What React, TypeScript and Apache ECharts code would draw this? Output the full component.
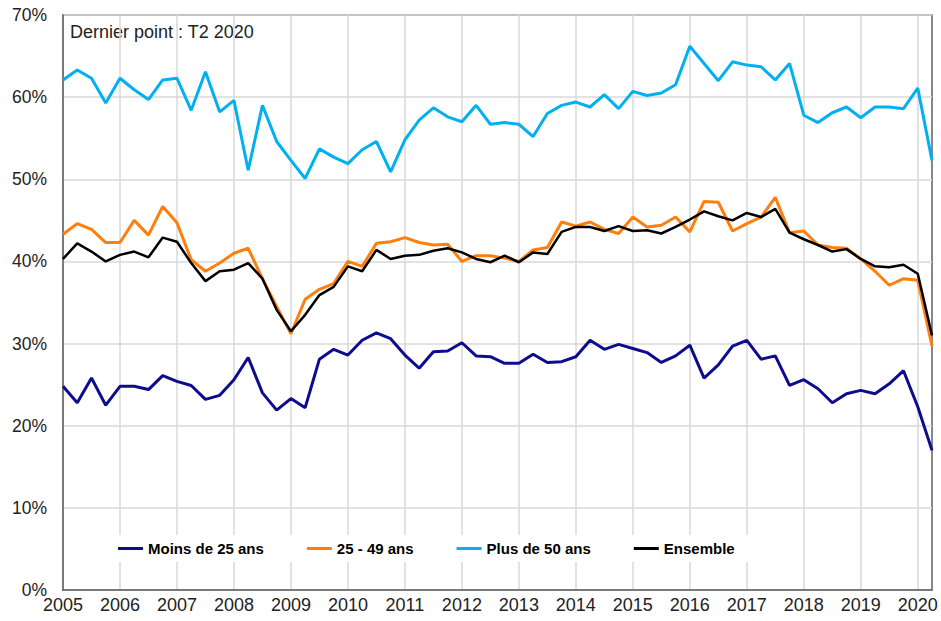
import React, { useEffect, useRef } from "react";
import * as echarts from "echarts";

const years = [2005, 2006, 2007, 2008, 2009, 2010, 2011, 2012, 2013, 2014, 2015, 2016, 2017, 2018, 2019, 2020];
const quarterNames = ["T1", "T2", "T3", "T4"];
const lastYearQuarters = 2;

const seriesNames = ["Moins de 25 ans", "25 - 49 ans", "Plus de 50 ans", "Ensemble"];

const moins25 = [
  24.8, 22.8, 25.8, 22.5, 24.8, 24.8, 24.4, 26.1, 25.4, 24.9, 23.2, 23.7, 25.6, 28.3, 24.0, 21.9,
  23.3, 22.2, 28.1, 29.3, 28.6, 30.4, 31.3, 30.6, 28.6, 27.0, 29.0, 29.1, 30.1, 28.5, 28.4, 27.6,
  27.6, 28.7, 27.7, 27.8, 28.4, 30.4, 29.3, 29.9, 29.4, 28.9, 27.7, 28.5, 29.8, 25.8, 27.4, 29.7,
  30.4, 28.1, 28.5, 24.9, 25.6, 24.5, 22.8, 23.9, 24.3, 23.9, 25.1, 26.7, 22.3, 17.0,
];

const de25a49 = [
  43.3, 44.6, 43.9, 42.3, 42.3, 45.0, 43.2, 46.7, 44.7, 40.2, 38.8, 39.8, 41.0, 41.6, 37.9, 34.5,
  31.2, 35.4, 36.6, 37.3, 40.0, 39.4, 42.2, 42.4, 42.9, 42.3, 42.0, 42.1, 40.0, 40.7, 40.7, 40.4,
  40.0, 41.4, 41.7, 44.8, 44.3, 44.8, 43.9, 43.4, 45.4, 44.2, 44.4, 45.4, 43.6, 47.3, 47.2, 43.7,
  44.6, 45.4, 47.8, 43.5, 43.7, 42.0, 41.7, 41.6, 40.3, 38.8, 37.1, 37.9, 37.7, 29.7,
];

const plus50 = [
  62.1, 63.3, 62.3, 59.3, 62.3, 60.9, 59.7, 62.1, 62.3, 58.4, 63.1, 58.2, 59.6, 51.1, 59.0, 54.6,
  52.3, 50.1, 53.7, 52.7, 51.9, 53.6, 54.6, 50.9, 54.8, 57.2, 58.7, 57.6, 57.0, 59.0, 56.7, 56.9,
  56.7, 55.2, 58.0, 59.0, 59.4, 58.8, 60.3, 58.6, 60.7, 60.2, 60.5, 61.5, 66.2, 64.1, 62.0, 64.3,
  63.9, 63.7, 62.1, 64.1, 57.8, 56.9, 58.1, 58.8, 57.5, 58.8, 58.8, 58.6, 61.1, 52.3,
];

const ensemble = [
  40.3, 42.2, 41.2, 40.0, 40.8, 41.2, 40.5, 42.9, 42.4, 39.8, 37.6, 38.8, 39.0, 39.8, 37.9, 34.1,
  31.5, 33.5, 35.9, 36.9, 39.4, 38.8, 41.4, 40.3, 40.7, 40.8, 41.3, 41.6, 41.1, 40.3, 39.9, 40.7,
  39.9, 41.1, 40.9, 43.6, 44.2, 44.2, 43.7, 44.3, 43.7, 43.8, 43.4, 44.2, 45.1, 46.1, 45.5, 45.0,
  45.9, 45.4, 46.4, 43.5, 42.7, 42.0, 41.2, 41.5, 40.3, 39.4, 39.3, 39.6, 38.5, 31.0,
];

const categories: string[] = [];
years.forEach((y, yi) => {
  const n = yi === years.length - 1 ? lastYearQuarters : 4;
  for (let q = 0; q < n; q++) categories.push(quarterNames[q] + " " + y);
});

const colors = ["#0c0c8c", "#ff7f0e", "#00b0f0", "#000000"];
const widths = [3, 3, 3, 2.5];
const values = [moins25, de25a49, plus50, ensemble];

const FONT = "'Liberation Sans', Arial, sans-serif";

export default function App() {
  const ref = useRef<HTMLDivElement>(null);
  useEffect(() => {
    if (!ref.current) return;
    const chart = echarts.init(ref.current, undefined, { renderer: "svg" });
    chart.setOption({
      animation: false,
      backgroundColor: "#ffffff",
      grid: {
        left: 63,
        right: 9,
        top: 15,
        bottom: 31,
        show: true,
        borderColor: "#606060",
        borderWidth: 1.5,
        containLabel: false,
      },
      graphic: [
        {
          type: "text",
          left: 70,
          top: 23,
          style: { text: "Dernier point : T2 2020", font: "18px " + FONT, fill: "#222" },
        },
      ],
      legend: {
        left: 78,
        top: 535,
        backgroundColor: "#ffffff",
        padding: [6, 38, 6, 40],
        itemGap: 43,
        itemWidth: 25,
        itemHeight: 3,
        icon: "rect",
        textStyle: { fontFamily: FONT, fontSize: 15, fontWeight: "bold", color: "#000" },
        data: seriesNames,
      },
      xAxis: {
        type: "category",
        data: categories,
        boundaryGap: false,
        axisLine: { show: true, lineStyle: { color: "#606060", width: 1.5 } },
        axisTick: { show: false },
        axisLabel: {
          interval: 3,
          margin: 6,
          fontFamily: FONT,
          fontSize: 18,
          color: "#222",
          formatter: (v: string) => v.split(" ")[1],
        },
        splitLine: { show: true, interval: 3, lineStyle: { color: "#d9d9d9", width: 1.5 } },
      },
      yAxis: {
        type: "value",
        min: 0,
        max: 70,
        interval: 10,
        axisLine: { show: true, lineStyle: { color: "#606060", width: 1.5 } },
        axisTick: { show: false },
        axisLabel: {
          formatter: "{value}%",
          margin: 16,
          fontFamily: FONT,
          fontSize: 17.5,
          color: "#222",
        },
        splitLine: { show: true, lineStyle: { color: "#d9d9d9", width: 1.5 } },
      },
      series: seriesNames.map((name, i) => ({
        name,
        type: "line",
        data: values[i],
        symbol: "none",
        showSymbol: false,
        lineStyle: { color: colors[i], width: widths[i] },
        itemStyle: { color: colors[i] },
        z: 2 + i,
      })),
    });
    return () => chart.dispose();
  }, []);
  return (
    <div
      ref={ref}
      style={{ position: "absolute", left: 0, top: 0, width: 941, height: 621 }}
    />
  );
}
